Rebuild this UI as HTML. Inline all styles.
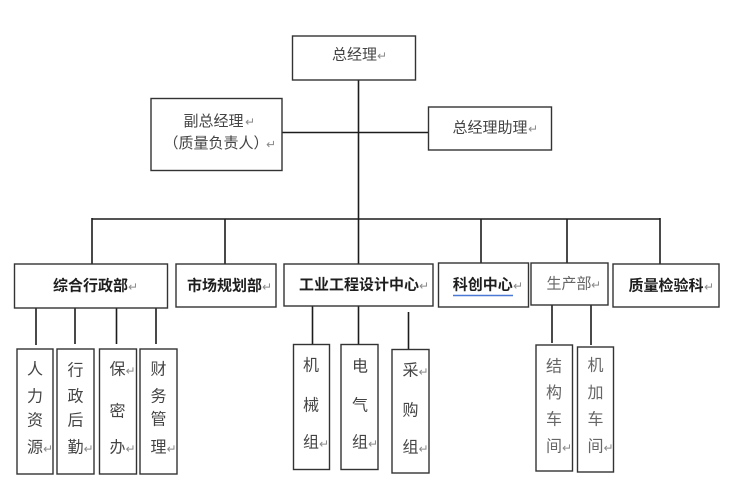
<!DOCTYPE html>
<html><head><meta charset="utf-8"><style>
html,body{margin:0;padding:0;background:#fff;}
svg{display:block;}
text{font-family:"Liberation Sans","Noto Sans CJK SC",sans-serif;}
.t{font-size:15px;fill:#444;dominant-baseline:central;text-anchor:middle;}
.v{font-size:16px;}
.b{font-size:15px;fill:#1e1e1e;font-weight:bold;dominant-baseline:central;text-anchor:middle;}
.g{fill:#666;}
.r{font-size:12px;fill:#8a8a8a;dominant-baseline:central;text-anchor:start;font-family:"DejaVu Sans",sans-serif;}
</style></head><body>
<svg width="732" height="495" viewBox="0 0 732 495" xmlns="http://www.w3.org/2000/svg">
<g fill="none" stroke="#1c1c1c" stroke-width="1.6">
<line x1="358.5" y1="80" x2="358.5" y2="264"/>
<line x1="282" y1="132.5" x2="428" y2="132.5"/>
<line x1="91.5" y1="219" x2="660.5" y2="219"/>
<line x1="92" y1="218" x2="92" y2="264"/>
<line x1="225" y1="219" x2="225" y2="264"/>
<line x1="481" y1="219" x2="481" y2="263"/>
<line x1="567" y1="219" x2="567" y2="263"/>
<line x1="660" y1="218" x2="660" y2="264"/>
<line x1="36" y1="308" x2="36" y2="345"/>
<line x1="75" y1="308" x2="75" y2="344"/>
<line x1="116.5" y1="308" x2="116.5" y2="344"/>
<line x1="156" y1="308" x2="156" y2="344"/>
<line x1="312.5" y1="306" x2="312.5" y2="344"/>
<line x1="358.5" y1="306" x2="358.5" y2="344"/>
<line x1="408.5" y1="312" x2="408.5" y2="349"/>
<line x1="552" y1="305" x2="552" y2="343"/>
<line x1="591" y1="305" x2="591" y2="345"/>
</g>
<g fill="#fff" stroke="#333" stroke-width="1.4">
<rect x="292.5" y="36" width="123" height="44"/>
<rect x="151" y="98.5" width="131" height="72"/>
<rect x="428.5" y="107" width="123" height="43"/>
<rect x="14.5" y="264" width="153" height="44"/>
<rect x="176" y="264" width="100" height="43"/>
<rect x="284" y="264" width="149" height="42"/>
<rect x="438.5" y="263" width="90" height="44"/>
<rect x="531" y="263" width="77" height="42"/>
<rect x="613" y="264" width="106" height="43"/>
<rect x="17" y="349" width="36" height="125"/>
<rect x="57" y="349" width="37" height="125"/>
<rect x="99.5" y="349" width="37" height="125"/>
<rect x="140" y="349" width="37" height="125"/>
<rect x="293.5" y="344.5" width="36" height="125"/>
<rect x="341" y="344.5" width="37" height="125"/>
<rect x="392" y="349.5" width="37" height="123.5"/>
<rect x="536" y="345" width="36.5" height="126"/>
<rect x="577.5" y="347" width="36" height="125"/>
</g>
<text class="t" x="354.5" y="55">总经理</text><text class="r" x="377" y="56">↵</text>
<text class="t" x="213.5" y="121.5">副总经理</text><text class="r" x="245" y="122">↵</text>
<text class="t" x="216" y="143.5">（质量负责人）</text><text class="r" x="266" y="144.5">↵</text>
<text class="t" x="490" y="128">总经理助理</text><text class="r" x="528" y="129">↵</text>
<text class="b" x="90.5" y="286">综合行政部</text><text class="r" x="128" y="287">↵</text>
<text class="b" x="224.5" y="286">市场规划部</text><text class="r" x="262" y="287">↵</text>
<text class="b" x="359" y="285">工业工程设计中心</text><text class="r" x="419" y="286">↵</text>
<text class="b" x="482.7" y="285">科创中心</text><text class="r" x="513" y="286">↵</text>
<line x1="453" y1="295.5" x2="513" y2="295.5" stroke="#4a78d6" stroke-width="1.4"/>
<text class="t g" x="569" y="284">生产部</text><text class="r" x="591" y="285">↵</text>
<text class="b" x="666" y="286">质量检验科</text><text class="r" x="704" y="287">↵</text>
<text class="t v" x="35" y="370">人</text><text class="t v" x="35" y="397">力</text><text class="t v" x="35" y="421">资</text><text class="t v" x="35" y="448">源</text><text class="r" x="43" y="449">↵</text>
<text class="t v" x="75.5" y="371">行</text><text class="t v" x="75.5" y="397">政</text><text class="t v" x="75.5" y="421">后</text><text class="t v" x="75.5" y="448">勤</text><text class="r" x="83.5" y="449">↵</text>
<text class="t v" x="117.5" y="370">保</text><text class="r" x="125.5" y="371">↵</text><text class="t v" x="117.5" y="412">密</text><text class="t v" x="117.5" y="448">办</text><text class="r" x="125.5" y="449">↵</text>
<text class="t v" x="158.5" y="370">财</text><text class="t v" x="158.5" y="397">务</text><text class="t v" x="158.5" y="420">管</text><text class="t v" x="158.5" y="448">理</text><text class="r" x="166.5" y="449">↵</text>
<text class="t v" x="311" y="366">机</text><text class="t v" x="311" y="406">械</text><text class="t v" x="311" y="443">组</text><text class="r" x="319" y="444">↵</text>
<text class="t v" x="360" y="367">电</text><text class="t v" x="360" y="406">气</text><text class="t v" x="360" y="443">组</text><text class="r" x="368" y="444">↵</text>
<text class="t v" x="410.5" y="371">采</text><text class="r" x="418.5" y="372">↵</text><text class="t v" x="410.5" y="411">购</text><text class="t v" x="410.5" y="448">组</text><text class="r" x="418.5" y="449">↵</text>
<text class="t v g" x="554" y="367">结</text><text class="t v g" x="554" y="393.5">构</text><text class="t v g" x="554" y="420">车</text><text class="t v g" x="554" y="447">间</text><text class="r" x="562" y="448">↵</text>
<text class="t v g" x="595.5" y="366">机</text><text class="t v g" x="595.5" y="393.5">加</text><text class="t v g" x="595.5" y="420">车</text><text class="t v g" x="595.5" y="447">间</text><text class="r" x="603.5" y="448">↵</text>
</svg>
</body></html>
